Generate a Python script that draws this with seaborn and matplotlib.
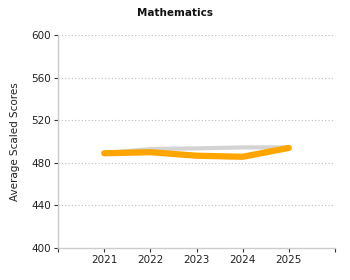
import matplotlib
matplotlib.use("Agg")
import matplotlib.pyplot as plt
import seaborn as sns
import pandas as pd

years = [2021, 2022, 2023, 2024, 2025]
grey_scores = [489, 493, 493.6, 494.5, 494.5]
orange_scores = [489, 490, 486.7, 485.7, 494]
yticks = [400, 440, 480, 520, 560, 600]

sns.set_style("white")
plt.rcParams['font.family'] = ['DejaVu Sans']

fig = plt.figure(figsize=(3.5, 2.8), dpi=100)
ax = fig.add_axes([0.166, 0.114, 0.791, 0.761])

df = pd.DataFrame({"year": years + years,
                   "score": grey_scores + orange_scores,
                   "series": ["grey"] * 5 + ["orange"] * 5})
sns.lineplot(data=df[df.series == "grey"], x="year", y="score", color="#d3d3d3",
             linewidth=3, ax=ax, legend=False)
sns.lineplot(data=df[df.series == "orange"], x="year", y="score", color="#FFA500",
             linewidth=4.5, ax=ax, legend=False)

ax.set_xlim(2020, 2026)
ax.set_ylim(400, 600)
ax.set_yticks(yticks)
ax.set_yticklabels([str(v) for v in yticks], fontsize=7.5, color="#222222")
ax.set_xticks([2020] + years + [2026])
ax.set_xticklabels([""] + [str(y) for y in years] + [""], fontsize=7.5, color="#222222")
for y in yticks[1:]:
    ax.axhline(y, color="#bbbbbb", linestyle=(0, (1, 2)), linewidth=0.8, zorder=0)
ax.tick_params(axis="both", left=True, bottom=True, length=3, width=0.8,
               color="#333333", pad=2, direction="out")
for s in ["top", "right"]:
    ax.spines[s].set_visible(False)
for s in ["left", "bottom"]:
    ax.spines[s].set_color("#cccccc")
    ax.spines[s].set_linewidth(1)
ax.set_xlabel("")
ax.set_ylabel("Average Scaled Scores", fontsize=7.5, color="#222222", labelpad=8)
fig.text(0.5, 0.955, "Mathematics", ha="center", va="center", fontsize=7.5,
         fontweight="bold", color="#111111")

fig.savefig("out.png", dpi=100)
